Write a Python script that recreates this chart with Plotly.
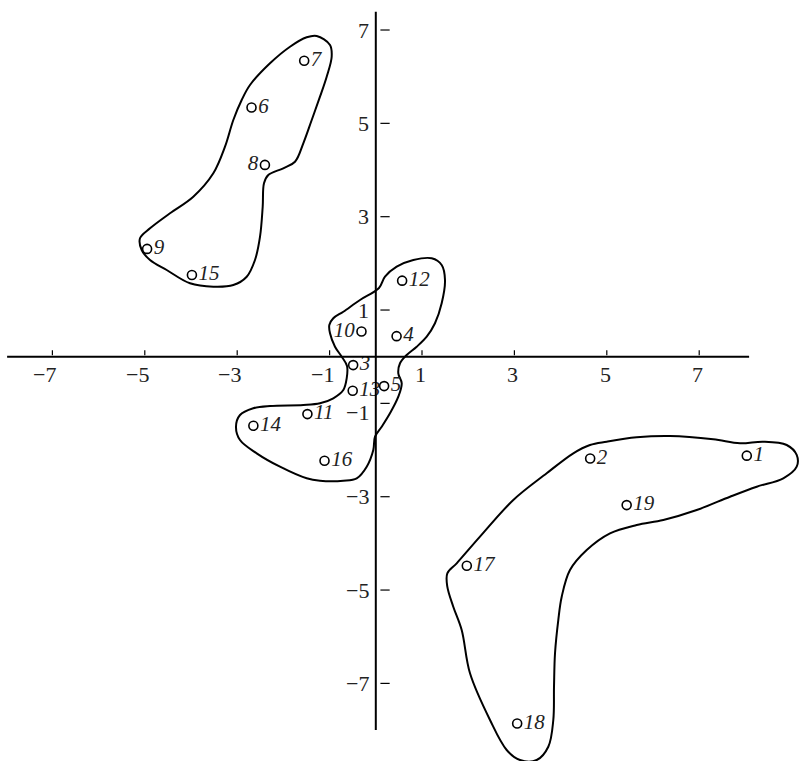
import plotly.graph_objects as go

# ---- data ----
point_labels = ["1", "2", "3", "4", "5", "6", "7", "8", "9", "10",
                "11", "12", "13", "14", "15", "16", "17", "18", "19"]
point_x = [8.03, 4.64, -0.49, 0.45, 0.18, -2.69, -1.55, -2.40, -4.95, -0.31,
           -1.48, 0.57, -0.50, -2.65, -3.98, -1.11, 1.97, 3.06, 5.43]
point_y = [-2.12, -2.18, -0.18, 0.44, -0.63, 5.34, 6.34, 4.11, 2.31, 0.54,
           -1.23, 1.63, -0.73, -1.48, 1.75, -2.23, -4.48, -7.86, -3.18]
label_side = ["middle right"] * 19
label_side[7] = "middle left"   # 8
label_side[9] = "middle left"   # 10

x_ticks = [-7, -5, -3, -1, 1, 3, 5, 7]
y_ticks = [7, 5, 3, 1, -1, -3, -5, -7]
x_axis_span = [-7.98, 8.08]
y_axis_span = [-8.0, 7.39]

# cluster outlines
group_a_x = [-1.279, -0.991, -0.955, -1.063, -1.208, -1.387, -1.569, -1.749, -2.002, -2.327,
             -2.420, -2.448, -2.506, -2.615, -2.794, -3.084, -3.517, -4.022, -4.526, -4.887,
             -5.067, -5.104, -4.887, -4.455, -3.950, -3.517, -3.264, -3.084, -2.903, -2.723,
             -2.290, -1.857, -1.496, -1.279]
group_a_y = [6.872, 6.679, 6.428, 6.000, 5.571, 5.072, 4.573, 4.178, 4.037, 3.893,
             3.715, 3.214, 2.571, 2.072, 1.714, 1.536, 1.500, 1.573, 1.858, 2.072,
             2.286, 2.537, 2.751, 3.073, 3.428, 3.930, 4.500, 5.072, 5.500, 5.822,
             6.287, 6.642, 6.844, 6.872]

group_b_x = [0.069, 0.199, 0.452, 0.812, 1.210, 1.426, 1.498, 1.426, 1.281, 1.102,
             0.885, 0.669, 0.524, 0.487, 0.561, 0.487, 0.307, 0.128, -0.017, -0.054,
             -0.197, -0.413, -0.703, -1.208, -1.496, -2.074, -2.578, -2.939, -3.026, -2.939,
             -2.652, -2.290, -1.569, -1.208, -0.920, -0.703, -0.630, -0.623, -0.738, -0.883,
             -0.991, -1.006, -0.920, -0.703, -0.342, 0.069]
group_b_y = [1.472, 1.714, 1.928, 2.072, 2.108, 1.965, 1.643, 1.144, 0.716, 0.429,
             0.214, 0.036, -0.141, -0.356, -0.570, -0.857, -1.213, -1.500, -1.714, -1.999,
             -2.357, -2.606, -2.657, -2.657, -2.606, -2.357, -2.070, -1.785, -1.500, -1.249,
             -1.106, -1.056, -1.035, -0.998, -0.891, -0.714, -0.463, -0.199, 0.000, 0.214,
             0.501, 0.679, 0.823, 0.964, 1.215, 1.472]

group_c_x = [4.998, 5.647, 6.368, 7.305, 7.883, 8.387, 8.894, 9.110, 9.110, 8.820,
             8.245, 7.667, 6.946, 6.223, 5.647, 5.069, 4.565, 4.203, 4.024, 3.950,
             3.879, 3.857, 3.842, 3.734, 3.483, 3.121, 2.833, 2.472, 2.039, 1.859,
             1.677, 1.548, 1.548, 1.751, 2.255, 2.976, 3.699, 4.275, 4.636, 4.998]
group_c_y = [-1.821, -1.727, -1.699, -1.770, -1.856, -1.821, -1.892, -2.106, -2.357, -2.606,
             -2.786, -3.000, -3.285, -3.499, -3.606, -3.784, -4.142, -4.570, -5.143, -5.642,
             -6.355, -7.071, -7.785, -8.357, -8.642, -8.642, -8.427, -7.785, -6.784, -5.856,
             -5.357, -4.928, -4.641, -4.427, -3.857, -3.071, -2.498, -2.070, -1.892, -1.821]

outlines = [(group_a_x, group_a_y), (group_b_x, group_b_y), (group_c_x, group_c_y)]

# ---- figure ----
fig = go.Figure()

for ox, oy in outlines:
    fig.add_trace(go.Scatter(
        x=ox, y=oy, mode="lines",
        line=dict(color="black", width=2, shape="spline", smoothing=1.0),
        hoverinfo="skip", showlegend=False))

fig.add_trace(go.Scatter(
    x=point_x, y=point_y, mode="markers+text",
    text=point_labels, textposition=label_side,
    textfont=dict(family="Liberation Serif", size=21, color="#222", style="italic"),
    marker=dict(symbol="circle-open", size=9, color="black", line=dict(width=1.6)),
    hoverinfo="skip", showlegend=False, cliponaxis=False))

shapes = []
# axes
shapes.append(dict(type="line", xref="x", yref="y", x0=x_axis_span[0], x1=x_axis_span[1],
                   y0=0, y1=0, line=dict(color="black", width=2)))
shapes.append(dict(type="line", xref="x", yref="y", x0=0, x1=0,
                   y0=y_axis_span[0], y1=y_axis_span[1], line=dict(color="black", width=2)))
for t in x_ticks:
    shapes.append(dict(type="line", xref="x", yref="y", x0=t, x1=t, y0=0.03, y1=0.14,
                       line=dict(color="black", width=1.2)))
for t in y_ticks:
    shapes.append(dict(type="line", xref="x", yref="y", x0=0.1, x1=0.3, y0=t, y1=t,
                       line=dict(color="black", width=1.2)))

def fmt(v):
    return ("\u2212" + str(-v)) if v < 0 else str(v)

tick_font = dict(family="Liberation Serif", size=22, color="#222")
annotations = []
for t in x_ticks:
    annotations.append(dict(x=t, y=0, xref="x", yref="y", text=fmt(t), showarrow=False,
                            xanchor="right", yanchor="middle", xshift=6, yshift=-18,
                            font=tick_font))
for t in y_ticks:
    annotations.append(dict(x=0, y=t, xref="x", yref="y", text=fmt(t), showarrow=False,
                            xanchor="right", yanchor="middle", xshift=-5,
                            yshift=(-9 if t == -1 else 0),
                            font=tick_font))

fig.update_layout(
    width=799, height=761,
    margin=dict(l=0, r=0, t=0, b=0),
    paper_bgcolor="white", plot_bgcolor="white",
    xaxis=dict(range=[-8.134, 9.160], visible=False, fixedrange=True),
    yaxis=dict(range=[-8.663, 7.643], visible=False, fixedrange=True),
    shapes=shapes, annotations=annotations, showlegend=False,
)

fig.write_html("out.html", config={"displayModeBar": False},
               post_script="document.body.style.margin='0';document.body.style.overflow='hidden';")
